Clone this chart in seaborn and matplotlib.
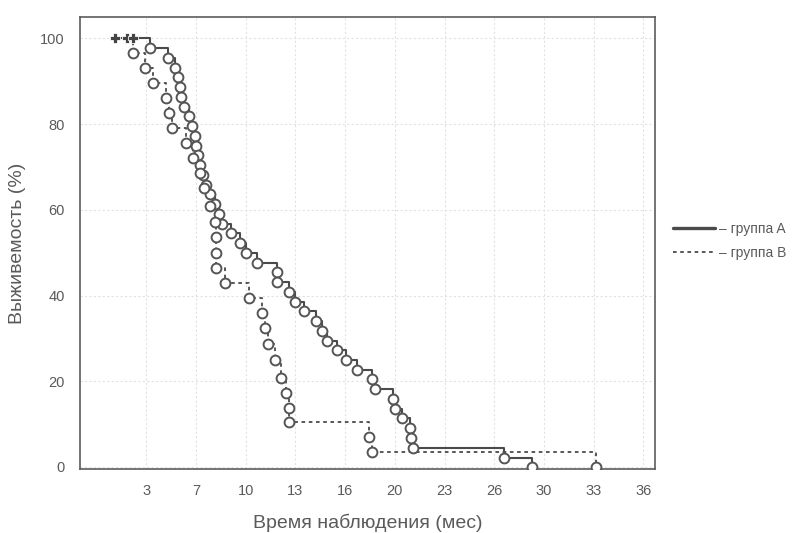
import numpy as np
import pandas as pd
import matplotlib.pyplot as plt
import seaborn as sns

# values (time in months, survival in %)
a_time = [3.5, 4.7, 5.2, 5.4, 5.5, 5.6, 5.75, 6.1, 6.3, 6.5, 6.6, 6.7, 6.8, 7.0, 7.2,
          7.5, 7.8, 8.1, 8.3, 8.9, 9.5, 9.9, 10.6, 11.9, 11.9, 12.7, 13.1, 13.7, 14.5,
          14.9, 15.2, 15.9, 16.5, 17.2, 18.2, 18.4, 19.6, 19.7, 20.2, 20.7, 20.8, 20.9,
          26.9, 28.8]
a_surv = [97.7, 95.5, 93.2, 90.9, 88.6, 86.4, 84.1, 81.8, 79.5, 77.3, 75.0, 72.7, 70.5,
          68.2, 65.9, 63.6, 61.4, 59.1, 56.8, 54.5, 52.3, 50.0, 47.7, 45.5, 43.2, 40.9,
          38.6, 36.4, 34.1, 31.8, 29.5, 27.3, 25.0, 22.7, 20.5, 18.2, 15.9, 13.6, 11.4,
          9.1, 6.8, 4.5, 2.0, 0.0]
a_censored = [1.2, 2.0, 2.4]

b_time = [2.4, 3.2, 3.7, 4.6, 4.8, 5.0, 5.9, 6.4, 6.8, 7.1, 7.5, 7.8, 7.9, 7.9, 7.9,
          8.5, 10.1, 10.9, 11.1, 11.3, 11.8, 12.2, 12.5, 12.7, 12.7, 18.0, 18.2, 33.0]
b_surv = [96.6, 93.1, 89.6, 86.1, 82.6, 79.1, 75.6, 72.1, 68.6, 65.1, 61.0, 57.2, 53.6,
          50.0, 46.4, 42.9, 39.4, 35.9, 32.4, 28.6, 24.9, 20.8, 17.2, 13.8, 10.5, 7.0,
          3.4, 0.0]

# axis ticks every 100 days, labelled in rounded months
x_ticks = [3.29, 6.57, 9.86, 13.14, 16.43, 19.71, 23.0, 26.28, 29.57, 32.85, 36.14]
x_labels = ['3', '7', '10', '13', '16', '20', '23', '26', '30', '33', '36']
y_ticks = [0, 20, 40, 60, 80, 100]

line_col = '#4a4a4a'
text_col = '#5a5a5a'

sns.set_theme(style='white')
plt.rcParams['font.family'] = ['Liberation Sans', 'DejaVu Sans']

# curves start at the first observation on the plot (first censored mark)
start = a_censored[0]
df_a = pd.DataFrame({'time': [start] + a_time, 'surv': [100.0] + a_surv})
df_b = pd.DataFrame({'time': [start] + b_time, 'surv': [100.0] + b_surv})

fig = plt.figure(figsize=(8.04, 5.33), dpi=100)
ax = fig.add_axes([0.0995, 0.12, 0.715, 0.848])

sns.lineplot(data=df_a, x='time', y='surv', estimator=None, sort=False, ax=ax,
             drawstyle='steps-post', color=line_col, lw=1.5, label='– группа A')
sns.lineplot(data=df_b, x='time', y='surv', estimator=None, sort=False, ax=ax,
             drawstyle='steps-post', color=line_col, lw=1.3, linestyle=(0, (2, 2)),
             label='– группа B')

# event circles
sns.scatterplot(x=a_time, y=a_surv, ax=ax, marker='o', s=50, facecolor='white',
                edgecolor='#555555', linewidth=1.4, legend=False, zorder=3)
sns.scatterplot(x=b_time, y=b_surv, ax=ax, marker='o', s=50, facecolor='white',
                edgecolor='#555555', linewidth=1.4, legend=False, zorder=3)
# censored marks
sns.scatterplot(x=a_censored, y=[100] * len(a_censored), ax=ax, marker='P', s=50,
                color='#444444', legend=False, zorder=4)

ax.set_xlim(-1.1, 36.9)
ax.set_ylim(-0.5, 105)
ax.set_xticks(x_ticks)
ax.set_xticklabels(x_labels)
ax.set_yticks(y_ticks)
ax.set_yticks([10, 30, 50, 70, 90], minor=True)
ax.grid(True, which='major', color='#e2e2e2', lw=0.8, ls=(0, (2, 2)))
ax.tick_params(axis='both', which='both', direction='inout', length=4, width=0.8,
               colors=line_col, labelcolor=text_col, labelsize=10.5)
ax.tick_params(axis='x', pad=9)
ax.tick_params(axis='y', pad=9)
for sp in ax.spines.values():
    sp.set_color('#5c5c5c')
    sp.set_linewidth(1.2)

ax.set_xlabel('Время наблюдения (мес)', fontsize=14, color=text_col, labelpad=11)
ax.set_ylabel('Выживемость (%)', fontsize=14, color=text_col, labelpad=10)

leg = ax.legend(loc='center left', bbox_to_anchor=(1.01, 0.505), frameon=False,
                handlelength=3.0, handletextpad=0.3, labelspacing=0.7, fontsize=10,
                labelcolor=text_col)
leg.get_lines()[0].set_linewidth(2.4)

fig.savefig('out.png', dpi=100, facecolor='white')
